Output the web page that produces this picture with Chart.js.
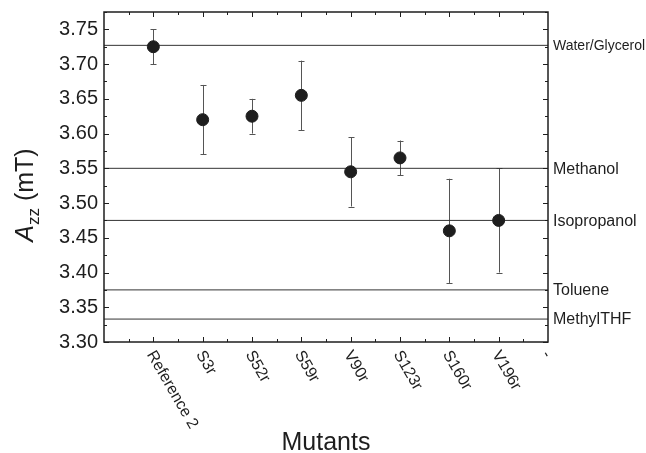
<!DOCTYPE html>
<html>
<head>
<meta charset="utf-8">
<script src="https://cdn.jsdelivr.net/npm/chart.js@4.4.0/dist/chart.umd.min.js"></script>
<style>
  html, body { margin: 0; padding: 0; background: #fff; }
  #wrap { width: 646px; height: 453px; }
</style>
</head>
<body>
<div id="wrap"><canvas id="chart"></canvas></div>
<script>
// mutants along x (position 1..8), last tick has a "-" label
const mutants = ['Reference 2', 'S3r', 'S52r', 'S59r', 'V90r', 'S123r', 'S160r', 'V196r', '-'];
const azz = [3.725, 3.62, 3.625, 3.655, 3.545, 3.565, 3.46, 3.475];
const azzErr = [0.025, 0.05, 0.025, 0.05, 0.05, 0.025, 0.075, 0.075];

// solvent reference lines
const solvents = ['Water/Glycerol', 'Methanol', 'Isopropanol', 'Toluene', 'MethylTHF'];
const solventAzz = [3.727, 3.55, 3.475, 3.375, 3.333];

const yTicks = [3.30, 3.35, 3.40, 3.45, 3.50, 3.55, 3.60, 3.65, 3.70, 3.75];

const ink = '#1e1e1e';
const FONT = 'Liberation Sans, Arial, sans-serif';

const pointData = azz.map((v, i) => ({ x: i + 1, y: v }));

const lineSets = solventAzz.map((v, i) => ({
  type: 'line',
  label: solvents[i],
  data: [{ x: 0, y: v }, { x: mutants.length, y: v }],
  borderColor: '#333',
  borderWidth: 1,
  pointRadius: 0,
  order: 2
}));

// frame, inward ticks, error bars, rotated labels, titles
const decorations = {
  id: 'decorations',
  beforeDatasetsDraw(chart) {
    const ctx = chart.ctx;
    const xs = chart.scales.x, ys = chart.scales.y;
    ctx.save();
    ctx.strokeStyle = '#555';
    ctx.lineWidth = 1;
    azz.forEach((v, i) => {
      const px = Math.round(xs.getPixelForValue(i + 1)) + 0.5;
      const top = ys.getPixelForValue(v + azzErr[i]);
      const bot = ys.getPixelForValue(v - azzErr[i]);
      ctx.beginPath();
      ctx.moveTo(px, top); ctx.lineTo(px, bot);
      ctx.moveTo(px - 3, Math.round(top) + 0.5); ctx.lineTo(px + 3, Math.round(top) + 0.5);
      ctx.moveTo(px - 3, Math.round(bot) + 0.5); ctx.lineTo(px + 3, Math.round(bot) + 0.5);
      ctx.stroke();
    });
    ctx.restore();
  },
  afterDraw(chart) {
    const ctx = chart.ctx;
    const a = chart.chartArea;
    const xs = chart.scales.x, ys = chart.scales.y;
    ctx.save();
    ctx.strokeStyle = ink;
    ctx.lineWidth = 1.5;
    ctx.strokeRect(a.left, a.top, a.right - a.left, a.bottom - a.top);

    ctx.lineWidth = 1;
    ctx.beginPath();
    // y ticks every 0.025, long ones on 0.05
    for (let k = 0; k <= 19; k++) {
      const v = 3.30 + k * 0.025;
      const py = Math.round(ys.getPixelForValue(v)) + 0.5;
      const len = k % 2 === 0 ? 5 : 3;
      ctx.moveTo(a.left, py); ctx.lineTo(a.left + len, py);
      ctx.moveTo(a.right, py); ctx.lineTo(a.right - len, py);
    }
    // x ticks every 0.5, long ones on integers
    for (let k = 1; k < mutants.length * 2; k++) {
      const px = Math.round(xs.getPixelForValue(k / 2)) + 0.5;
      const len = k % 2 === 0 ? 5 : 3;
      ctx.moveTo(px, a.bottom); ctx.lineTo(px, a.bottom - len);
      ctx.moveTo(px, a.top); ctx.lineTo(px, a.top + len);
    }
    ctx.stroke();

    // rotated category labels
    ctx.fillStyle = ink;
    ctx.font = '16px ' + FONT;
    ctx.textAlign = 'left';
    ctx.textBaseline = 'middle';
    mutants.forEach((m, i) => {
      const px = xs.getPixelForValue(i + 1);
      ctx.save();
      ctx.translate(px - 3, a.bottom + 10);
      ctx.rotate(Math.PI / 3);
      ctx.fillText(m, 0, 0);
      ctx.restore();
    });

    // solvent names on the right
    solvents.forEach((s, i) => {
      ctx.font = (i === 0 ? '14px ' : '16px ') + FONT;
      ctx.fillText(s, a.right + 5, ys.getPixelForValue(solventAzz[i]) + 1);
    });

    // axis titles
    ctx.font = '25px ' + FONT;
    ctx.textAlign = 'center';
    ctx.textBaseline = 'alphabetic';
    ctx.fillText('Mutants', (a.left + a.right) / 2, 450);

    ctx.save();
    ctx.translate(33, 195);
    ctx.rotate(-Math.PI / 2);
    ctx.textAlign = 'left';
    const parts = [
      ['italic 25px ' + FONT, 'A', 0],
      ['17px ' + FONT, 'zz', 6],
      ['25px ' + FONT, ' (mT)', 0]
    ];
    let total = 0;
    parts.forEach(p => { ctx.font = p[0]; total += ctx.measureText(p[1]).width; });
    let cx = -total / 2;
    parts.forEach(p => {
      ctx.font = p[0];
      ctx.fillText(p[1], cx, p[2]);
      cx += ctx.measureText(p[1]).width;
    });
    ctx.restore();

    ctx.restore();
  }
};

new Chart(document.getElementById('chart'), {
  type: 'scatter',
  data: {
    datasets: [{
      label: 'Azz',
      data: pointData,
      backgroundColor: ink,
      borderColor: ink,
      pointRadius: 6,
      pointHoverRadius: 6,
      order: 1
    }, ...lineSets]
  },
  options: {
    responsive: true,
    maintainAspectRatio: false,
    animation: false,
    events: [],
    layout: { padding: { top: 12, right: 98, left: 0, bottom: 0 } },
    plugins: { legend: { display: false }, tooltip: { enabled: false } },
    scales: {
      x: {
        type: 'linear',
        min: 0,
        max: mutants.length,
        grid: { display: false, drawTicks: false },
        border: { display: false },
        ticks: { display: false },
        afterFit(scale) { scale.height = 111; scale.paddingLeft = 0; scale.paddingRight = 0; }
      },
      y: {
        type: 'linear',
        min: 3.30,
        max: 3.775,
        grid: { display: false, drawTicks: false },
        border: { display: false },
        afterBuildTicks(scale) { scale.ticks = yTicks.map(v => ({ value: v })); },
        ticks: {
          color: ink,
          font: { family: FONT, size: 20 },
          padding: 6,
          callback: v => v.toFixed(2)
        },
        afterFit(scale) { scale.width = 104; scale.paddingTop = 0; scale.paddingBottom = 0; }
      }
    }
  },
  plugins: [decorations]
});
</script>
</body>
</html>
